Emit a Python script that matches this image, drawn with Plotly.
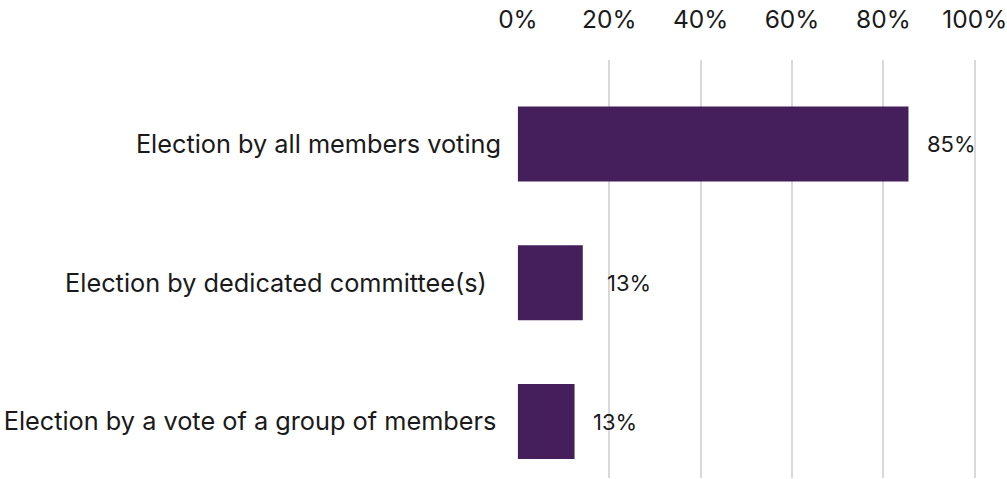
import plotly.graph_objects as go

categories = [
    "Election by all members voting",
    "Election by dedicated committee(s)",
    "Election by a vote of a group of members",
]
values = [85.5, 14.2, 12.4]
value_labels = ["85%", "13%", "13%"]
tick_vals = [0, 20, 40, 60, 80, 100]
tick_text = ["0%", "20%", "40%", "60%", "80%", "100%"]

# small per-label trailing padding seen in the reference
tick_pad = ["", "\u00a0\u00a0", "\u2009"]
label_shift = [17, 22, 16]

FONT = "Inter"
TEXT = "#1a1a1a"
BAR = "#451f5c"

fig = go.Figure()
fig.add_trace(go.Bar(
    x=values,
    y=list(range(len(categories))),
    orientation="h",
    marker=dict(color=BAR, line=dict(width=0)),
    width=0.54,
    hoverinfo="skip",
))

for i, (v, t) in enumerate(zip(values, value_labels)):
    fig.add_annotation(
        x=v, y=i, xref="x", yref="y",
        text=t, showarrow=False,
        xanchor="left", yanchor="middle",
        xshift=label_shift[i],
        font=dict(family=FONT, size=22, color=TEXT),
    )

fig.update_layout(
    width=1007, height=479,
    margin=dict(l=517, r=30, t=60, b=1, autoexpand=False),
    paper_bgcolor="white", plot_bgcolor="white",
    showlegend=False,
    font=dict(family=FONT, size=25, color=TEXT),
    xaxis=dict(
        side="top",
        range=[-0.2, 100.5],
        tickvals=tick_vals,
        ticktext=tick_text,
        showgrid=True,
        gridcolor="#d9d9d9",
        gridwidth=1.5,
        zeroline=False,
        showline=False,
        ticks="",
        automargin=False,
        ticklabeloverflow="allow",
        ticklabelstandoff=26,
        tickfont=dict(family=FONT, size=24.5, color=TEXT),
        fixedrange=True,
    ),
    yaxis=dict(
        range=[2.407, -0.605],
        tickvals=list(range(len(categories))),
        ticktext=[c + p for c, p in zip(categories, tick_pad)],
        showgrid=False,
        zeroline=False,
        showline=False,
        ticks="",
        automargin=False,
        ticklabeloverflow="allow",
        ticklabelstandoff=15,
        tickfont=dict(family=FONT, size=25.3, color=TEXT),
        fixedrange=True,
    ),
)

fig.write_html(
    "out.html",
    config={"displayModeBar": False},
    post_script="document.body.style.margin='0';document.body.style.overflow='hidden';",
)
